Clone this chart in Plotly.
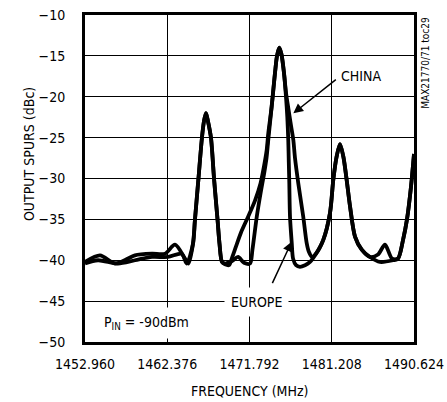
import plotly.graph_objects as go

# ---- data (MHz, dBc) ----
china_freq = [1452.96, 1454.68, 1456.39, 1457.88, 1458.68, 1460.63, 1462.12, 1463.26, 1464.41, 1464.81,
              1465.32, 1465.55, 1465.95, 1466.35, 1466.58, 1466.81, 1467.04, 1467.38, 1467.73, 1468.13, 1468.36, 1468.64,
              1468.99, 1469.45, 1469.79, 1470.25, 1470.82, 1471.62, 1472.42, 1473.05, 1473.45, 1473.76, 1473.94,
              1474.33, 1474.71, 1474.94, 1475.20, 1475.45, 1475.74, 1475.97, 1476.25, 1476.54, 1476.81, 1477.00,
              1477.38, 1477.95, 1478.34, 1478.60, 1478.94, 1479.40,
              1480.24, 1481.01, 1481.38, 1481.77, 1482.15, 1482.53, 1482.92, 1483.30, 1483.87, 1484.64, 1485.59,
              1486.73, 1488.22,
              1488.79, 1489.37, 1489.82, 1490.28, 1490.624]
china_dbc = [-40.2, -39.4, -40.4, -39.8, -39.4, -39.2, -39.2, -38.1, -39.8, -40.4,
             -38.0, -35.0, -30.0, -25.0, -23.0, -22.0, -23.0, -25.0, -30.0, -35.0, -38.0, -40.2,
             -40.5, -40.6, -39.7, -38.3, -36.6, -34.7, -32.7, -30.6, -28.5, -26.5, -24.5,
             -21.2, -17.1, -15.0, -14.0, -14.8, -17.1, -19.5, -21.5, -23.5, -25.3, -27.5,
             -30.6, -34.7, -37.9, -39.0, -39.6, -39.2,
             -37.5, -34.2, -30.2, -27.3, -25.8, -27.3, -30.2, -33.4, -37.1, -38.7, -39.6,
             -40.2, -40.0,
             -39.8, -37.5, -35.0, -31.0, -27.0]

europe_freq = [1452.96, 1454.45, 1456.74, 1458.68, 1460.63, 1462.46, 1464.03, 1464.60,
               1465.32, 1465.55, 1465.95, 1466.35, 1466.58, 1466.81, 1467.04, 1467.38, 1467.73, 1468.13, 1468.36, 1468.64,
               1468.99, 1469.79, 1470.48, 1471.16, 1471.85, 1472.13, 1472.62, 1473.11, 1473.45, 1473.74, 1473.94,
               1474.33, 1474.71, 1474.94, 1475.20, 1475.45, 1475.74, 1475.97, 1476.12, 1476.23, 1476.29, 1476.35,
               1476.43, 1476.63, 1476.78, 1477.12, 1477.57, 1478.15, 1478.72, 1479.40,
               1480.24, 1481.01, 1481.38, 1481.77, 1482.15, 1482.53, 1482.92, 1483.30, 1483.87, 1484.64, 1485.59,
               1486.50, 1487.30, 1488.11,
               1488.79, 1489.37, 1489.82, 1490.28, 1490.624]
europe_dbc = [-40.4, -40.0, -40.4, -40.0, -39.6, -39.6, -39.2, -40.4,
              -38.0, -35.0, -30.0, -25.0, -23.0, -22.0, -23.0, -25.0, -30.0, -35.0, -38.0, -40.2,
              -40.4, -40.1, -39.6, -40.3, -40.4, -38.7, -34.7, -31.5, -29.5, -27.5, -25.3,
              -21.2, -17.1, -15.0, -14.0, -14.8, -17.1, -20.0, -22.5, -25.3, -28.0, -30.6,
              -34.7, -37.9, -39.8, -40.6, -40.8, -40.6, -40.2, -39.2,
              -37.5, -34.2, -30.2, -27.3, -25.8, -27.3, -30.2, -33.4, -37.1, -38.7, -39.6,
              -39.3, -38.1, -39.8,
              -39.8, -37.5, -35.0, -31.0, -27.0]

x_ticks = [1452.960, 1462.376, 1471.792, 1481.208, 1490.624]
x_tick_labels = ["1452.960", "1462.376", "1471.792", "1481.208", "1490.624"]
y_ticks = [-50, -45, -40, -35, -30, -25, -20, -15, -10]

FONT = "DejaVu Sans Condensed, Liberation Sans Narrow, Liberation Sans, sans-serif"
FS = 14

fig = go.Figure()
for name, xs, ys in [("CHINA", china_freq, china_dbc), ("EUROPE", europe_freq, europe_dbc)]:
    fig.add_trace(go.Scatter(x=xs, y=ys, mode="lines", name=name,
                             line=dict(color="black", width=3.8, shape="spline", smoothing=0.8),
                             showlegend=False, hoverinfo="skip"))

fig.update_layout(
    width=447, height=402,
    margin=dict(l=85, r=33, t=15, b=60),
    paper_bgcolor="white", plot_bgcolor="white",
    font=dict(family=FONT, size=FS, color="black"),
    showlegend=False,
)
fig.update_xaxes(range=[x_ticks[0], x_ticks[-1]], tickvals=x_ticks, ticktext=x_tick_labels,
                 showgrid=True, gridcolor="black", gridwidth=1, automargin=False,
                 showline=True, linecolor="black", linewidth=3, mirror=True,
                 ticks="", zeroline=False, tickfont=dict(size=FS), ticklabelstandoff=7)
fig.update_yaxes(range=[-50, -10], tickvals=y_ticks, automargin=False,
                 showgrid=True, gridcolor="black", gridwidth=1,
                 showline=True, linecolor="black", linewidth=3, mirror=True,
                 ticks="", zeroline=False, tickfont=dict(size=FS), ticklabelstandoff=14)

ann = []
# axis titles
ann.append(dict(text="FREQUENCY (MHz)", xref="paper", yref="paper", x=0.5, y=-0.12,
                xanchor="center", yanchor="top", showarrow=False, font=dict(size=FS)))
ann.append(dict(text="OUTPUT SPURS (dBc)", xref="paper", yref="paper", x=-0.17, y=0.575,
                xanchor="center", yanchor="middle", textangle=-90, showarrow=False, font=dict(size=FS)))
# side note
ann.append(dict(text="MAX21770/71 toc29", xref="paper", yref="paper", x=1.01, y=1.0,
                xanchor="left", yanchor="top", textangle=-90, showarrow=False, font=dict(size=10)))
# labels
ann.append(dict(text="CHINA", x=1484.61, y=-17.46, xref="x", yref="y", showarrow=False,
                xanchor="center", yanchor="middle", font=dict(size=FS)))
ann.append(dict(text="", x=1476.81, y=-22.03, xref="x", yref="y", ax=44, ay=-35,
                showarrow=True, arrowhead=2, arrowsize=1.3, arrowwidth=1.5, arrowcolor="black"))
ann.append(dict(text="EUROPE", x=1472.62, y=-45.07, xref="x", yref="y", showarrow=False,
                xanchor="center", yanchor="middle", bgcolor="white", borderpad=6, font=dict(size=FS)))
ann.append(dict(text="", x=1476.62, y=-37.73, xref="x", yref="y", ax=-20, ay=43,
                showarrow=True, arrowhead=2, arrowsize=1.3, arrowwidth=1.5, arrowcolor="black"))
ann.append(dict(text="P<sub>IN</sub> = -90dBm", x=1454.33, y=-47.67, xref="x", yref="y", showarrow=False,
                xanchor="left", yanchor="middle", bgcolor="white", borderpad=6, font=dict(size=FS)))
fig.update_layout(annotations=ann)

fig.write_html("out.html")
